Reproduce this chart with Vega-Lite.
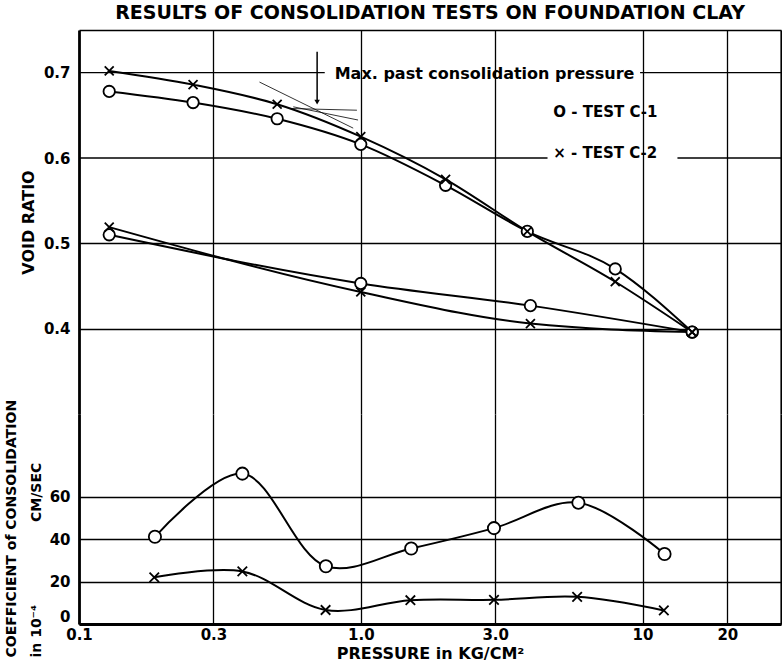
{
  "$schema": "https://vega.github.io/schema/vega-lite/v6.json",
  "background": "white",
  "padding": {"left": 4, "top": 4, "right": 0, "bottom": 0},
  "title": {"text": "RESULTS OF CONSOLIDATION TESTS ON FOUNDATION CLAY", "font": "DejaVu Sans", "fontSize": 19, "fontWeight": "bold", "color": "black", "anchor": "start", "dx": 111, "offset": 7},
  "datasets": {
    "void": [
      {"s": "C-2 load", "t": "C-2", "p": 0.128, "e": 0.702},
      {"s": "C-2 load", "t": "C-2", "p": 0.254, "e": 0.686},
      {"s": "C-2 load", "t": "C-2", "p": 0.505, "e": 0.663},
      {"s": "C-2 load", "t": "C-2", "p": 1.0, "e": 0.625},
      {"s": "C-2 load", "t": "C-2", "p": 2.0, "e": 0.575},
      {"s": "C-2 load", "t": "C-2", "p": 3.9, "e": 0.514},
      {"s": "C-2 load", "t": "C-2", "p": 8.0, "e": 0.455},
      {"s": "C-2 load", "t": "C-2", "p": 15, "e": 0.396},
      {"s": "C-1 load", "t": "C-1", "p": 0.128, "e": 0.678},
      {"s": "C-1 load", "t": "C-1", "p": 0.254, "e": 0.665},
      {"s": "C-1 load", "t": "C-1", "p": 0.505, "e": 0.646},
      {"s": "C-1 load", "t": "C-1", "p": 1.0, "e": 0.616},
      {"s": "C-1 load", "t": "C-1", "p": 2.0, "e": 0.568},
      {"s": "C-1 load", "t": "C-1", "p": 3.9, "e": 0.514},
      {"s": "C-1 load", "t": "C-1", "p": 8.0, "e": 0.47},
      {"s": "C-1 load", "t": "C-1", "p": 15, "e": 0.396},
      {"s": "C-1 unload", "t": "C-1", "p": 15, "e": 0.396},
      {"s": "C-1 unload", "t": "C-1", "p": 4.0, "e": 0.427},
      {"s": "C-1 unload", "t": "C-1", "p": 1.0, "e": 0.453},
      {"s": "C-1 unload", "t": "C-1", "p": 0.128, "e": 0.51},
      {"s": "C-2 unload", "t": "C-2", "p": 15, "e": 0.396},
      {"s": "C-2 unload", "t": "C-2", "p": 4.0, "e": 0.406},
      {"s": "C-2 unload", "t": "C-2", "p": 1.0, "e": 0.443},
      {"s": "C-2 unload", "t": "C-2", "p": 0.128, "e": 0.519}
    ],
    "cv": [
      {"t": "C-1", "p": 0.186, "cv": 41.1},
      {"t": "C-1", "p": 0.38, "cv": 70.9},
      {"t": "C-1", "p": 0.752, "cv": 27.2},
      {"t": "C-1", "p": 1.51, "cv": 35.6},
      {"t": "C-1", "p": 2.97, "cv": 45.2},
      {"t": "C-1", "p": 5.92, "cv": 57.2},
      {"t": "C-1", "p": 11.97, "cv": 33.0},
      {"t": "C-2", "p": 0.185, "cv": 22.0},
      {"t": "C-2", "p": 0.38, "cv": 24.8},
      {"t": "C-2", "p": 0.75, "cv": 6.6},
      {"t": "C-2", "p": 1.5, "cv": 11.2},
      {"t": "C-2", "p": 2.97, "cv": 11.4},
      {"t": "C-2", "p": 5.86, "cv": 12.8},
      {"t": "C-2", "p": 11.9, "cv": 6.4}
    ],
    "gridsegs": [
      {"p": 0.1, "p2": 0.745, "e": 0.7},
      {"p": 9.8, "p2": 31, "e": 0.7},
      {"p": 0.1, "p2": 4.6, "e": 0.6},
      {"p": 13.3, "p2": 31, "e": 0.6}
    ],
    "construction": [
      {"p": 0.437, "e": 0.689, "p2": 0.94, "e2": 0.635},
      {"p": 0.562, "e": 0.658, "p2": 0.969, "e2": 0.656},
      {"p": 0.576, "e": 0.66, "p2": 0.978, "e2": 0.6445}
    ],
    "arrow": [
      {"p": 0.7, "e": 0.7246, "p2": 0.7, "e2": 0.667}
    ],
    "arrowhead": [
      {"p": 0.7, "e": 0.6655}
    ],
    "note": [
      {"p": 2.75, "e": 0.699, "label": "Max. past consolidation pressure"}
    ],
    "legend": [
      {"p": 4.82, "e": 0.654, "label": "O - TEST C-1"},
      {"p": 4.82, "e": 0.606, "label": "× - TEST C-2"}
    ]
  },
  "spacing": 0,
  "bounds": "flush",
  "vconcat": [
    {
      "width": 702,
      "height": 384,
      "encoding": {
        "x": {"field": "p", "type": "quantitative",
          "scale": {"type": "log", "domain": [0.1, 31], "nice": false},
          "axis": {"orient": "top", "title": null, "labels": false, "ticks": false, "domain": true, "domainWidth": 1.5, "domainColor": "black",
            "grid": true, "values": [0.3, 1, 3, 10, 20, 31], "gridColor": "black",
            "gridWidth": {"condition": {"test": "datum.value > 25", "value": 2.2}, "value": 1.3}}},
        "y": {"field": "e", "type": "quantitative",
          "scale": {"domain": [0.3, 0.75], "nice": false, "zero": false},
          "axis": {"values": [0.4, 0.5, 0.6, 0.7], "format": ".1f", "title": "VOID  RATIO", "titleFontSize": 16, "titlePadding": 7,
            "labelPadding": 9, "labelFontSize": 15, "domainWidth": 2.8, "domainColor": "black", "ticks": false,
            "grid": true, "gridColor": "black", "gridWidth": 1.3,
            "gridOpacity": {"condition": {"test": "datum.value > 0.55", "value": 0}, "value": 1}}}
      },
      "layer": [
        {"data": {"name": "gridsegs"}, "mark": {"type": "rule", "color": "black", "strokeWidth": 1.3},
          "encoding": {"x2": {"field": "p2"}}},
        {"data": {"name": "construction"}, "mark": {"type": "rule", "color": "black", "strokeWidth": 0.8},
          "encoding": {"x2": {"field": "p2"}, "y2": {"field": "e2"}}},
        {"data": {"name": "arrow"}, "mark": {"type": "rule", "color": "black", "strokeWidth": 1.5},
          "encoding": {"x2": {"field": "p2"}, "y2": {"field": "e2"}}},
        {"data": {"name": "arrowhead"}, "mark": {"type": "point", "shape": "triangle-down", "filled": true, "color": "black", "size": 30, "opacity": 1}},
        {"data": {"name": "void"}, "mark": {"type": "line", "interpolate": "monotone", "color": "black", "strokeWidth": 2},
          "encoding": {"detail": {"field": "s"}}},
        {"data": {"name": "void"}, "transform": [{"filter": "datum.t === 'C-1'"}],
          "mark": {"type": "point", "shape": "circle", "filled": true, "fill": "white", "stroke": "black", "strokeWidth": 1.8, "size": 130, "opacity": 1}},
        {"data": {"name": "void"}, "transform": [{"filter": "datum.t === 'C-2'"}],
          "mark": {"type": "point", "shape": "M-1,-1L1,1M-1,1L1,-1", "filled": false, "stroke": "black", "strokeWidth": 1.8, "size": 80, "opacity": 1}},
        {"data": {"name": "note"}, "mark": {"type": "text", "font": "DejaVu Sans", "fontWeight": "bold", "fontSize": 16, "align": "center", "baseline": "middle", "color": "black"},
          "encoding": {"text": {"field": "label"}}},
        {"data": {"name": "legend"}, "mark": {"type": "text", "font": "DejaVu Sans", "fontWeight": "bold", "fontSize": 15, "align": "left", "baseline": "middle", "color": "black"},
          "encoding": {"text": {"field": "label"}}}
      ]
    },
    {
      "width": 702,
      "height": 210,
      "data": {"name": "cv"},
      "encoding": {
        "x": {"field": "p", "type": "quantitative",
          "scale": {"type": "log", "domain": [0.1, 31], "nice": false},
          "axis": {"orient": "bottom", "title": "PRESSURE in KG/CM²", "titleFontSize": 16, "titlePadding": 3,
            "values": [0.1, 0.3, 1, 3, 10, 20, 31],
            "labelExpr": "datum.value > 25 ? '' : datum.value < 0.2 ? '0.1' : datum.value < 0.5 ? '0.3' : datum.value < 2 ? '1.0' : datum.value < 5 ? '3.0' : datum.value < 15 ? '10' : '20'",
            "labelFlush": false, "labelOverlap": false, "labelPadding": 3, "labelFontSize": 15, "ticks": false,
            "domainWidth": 3, "domainColor": "black",
            "grid": true, "gridColor": "black",
            "gridWidth": {"condition": {"test": "datum.value > 25", "value": 2.2}, "value": 1.3}}},
        "y": {"field": "cv", "type": "quantitative",
          "scale": {"domain": [0, 99], "nice": false},
          "axis": {"values": [0, 20, 40, 60], "title": ["COEFFICIENT of CONSOLIDATION", "in 10⁻⁴\u00a0\u00a0\u00a0\u00a0\u00a0\u00a0\u00a0\u00a0\u00a0\u00a0\u00a0\u00a0\u00a0\u00a0\u00a0\u00a0\u00a0CM/SEC"],
            "titleFontSize": 14, "titleLineHeight": 25, "titlePadding": 6, "titleAlign": "left", "titleY": 243,
            "labelPadding": 9, "labelFontSize": 15, "domainWidth": 2.8, "domainColor": "black", "ticks": false,
            "labelBaseline": {"condition": {"test": "datum.value === 0", "value": "bottom"}, "value": "middle"},
            "grid": true, "gridColor": "black", "gridWidth": 1.3}}
      },
      "layer": [
        {"mark": {"type": "line", "interpolate": "catmull-rom", "color": "black", "strokeWidth": 2},
          "encoding": {"detail": {"field": "t"}}},
        {"transform": [{"filter": "datum.t === 'C-1'"}],
          "mark": {"type": "point", "shape": "circle", "filled": true, "fill": "white", "stroke": "black", "strokeWidth": 1.8, "size": 150, "opacity": 1}},
        {"transform": [{"filter": "datum.t === 'C-2'"}],
          "mark": {"type": "point", "shape": "M-1,-1L1,1M-1,1L1,-1", "filled": false, "stroke": "black", "strokeWidth": 1.8, "size": 90, "opacity": 1}}
      ]
    }
  ],
  "config": {
    "font": "DejaVu Sans",
    "view": {"stroke": null},
    "axis": {"labelFont": "DejaVu Sans", "labelFontWeight": "bold", "labelColor": "black", "titleFont": "DejaVu Sans", "titleFontWeight": "bold", "titleColor": "black"}
  }
}
